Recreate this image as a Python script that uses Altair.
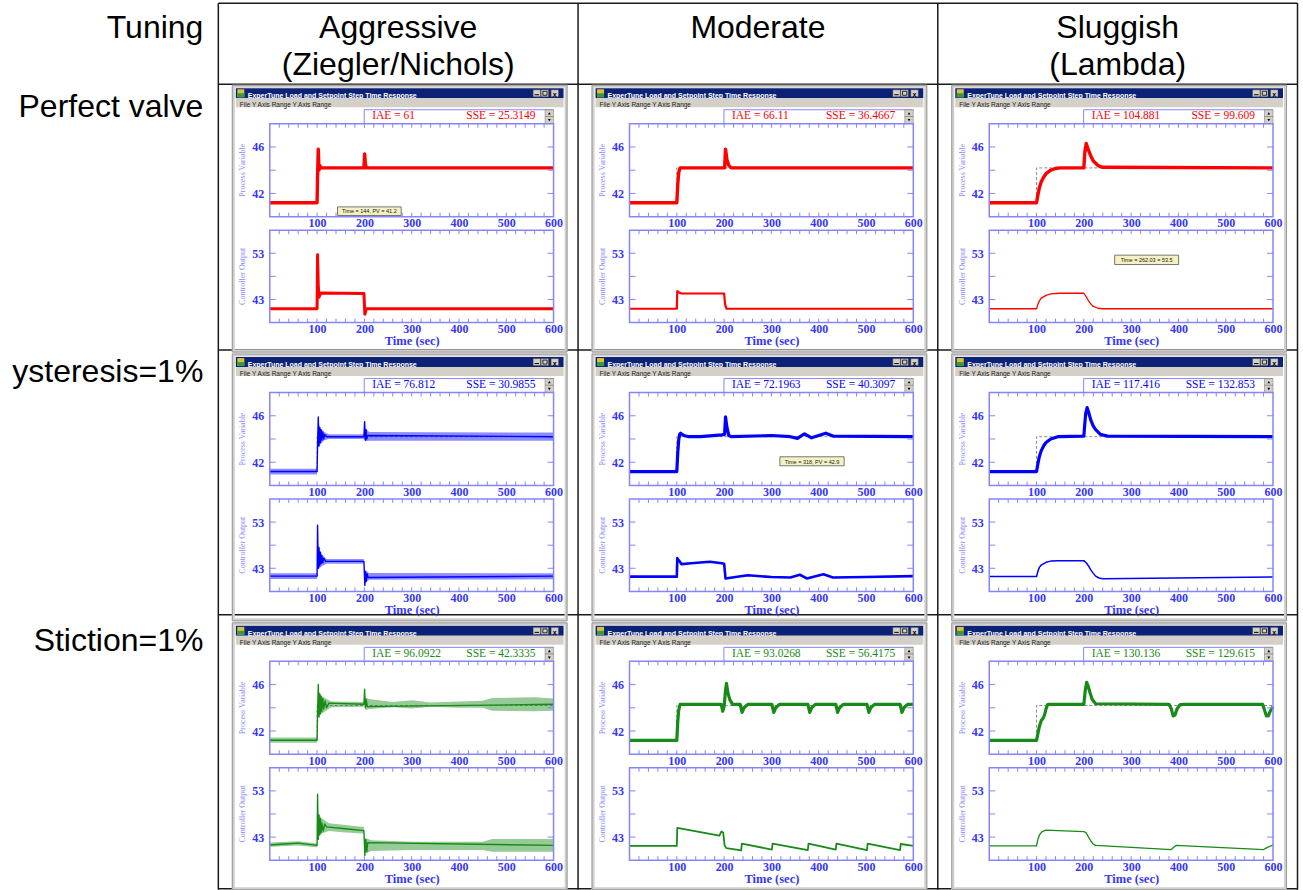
import altair as alt
import pandas as pd

# ---------------- texts ----------------
CORNER = "Tuning"
HEADER_TOP = ["Aggressive", "Moderate", "Sluggish"]
HEADER_BOTTOM = ["(Ziegler/Nichols)", "", "(Lambda)"]
ROW_LABELS = ["Perfect valve", "ysteresis=1%", "Stiction=1%"]
WINDOW_TITLE = "ExperTune Load and Setpoint Step Time Response"
MENU_TEXT = "File    Y Axis Range    Y Axis Range"
PV_TITLE = "Process Variable"
CO_TITLE = "Controller Output"
IAE = [["61", "66.11", "104.881"],
       ["76.812", "72.1963", "117.416"],
       ["96.0922", "93.0268", "130.136"]]
SSE = [["25.3149", "36.4667", "99.609"],
       ["30.9855", "40.3097", "132.853"],
       ["42.3335", "56.4175", "129.615"]]
TOOLTIP_TEXT = {(0, 0, "pv"): "Time = 144, PV = 41.2",
                (0, 2, "co"): "Time = 262.03 = 53.5",
                (1, 1, "pv"): "Time = 318, PV = 42.9"}

# ---------------- axis values ----------------
TIME_LABELS = [100, 200, 300, 400, 500, 600]
TIME_MINOR = [20, 40, 60, 80, 100, 120, 140, 160, 180, 200, 220, 240, 260, 280, 300,
              320, 340, 360, 380, 400, 420, 440, 460, 480, 500, 520, 540, 560, 580]
PV_LABELS = [42, 46]
PV_TICKS = [42, 44, 46]
CO_LABELS = [43, 53]
CO_TICKS = [43, 48, 53]
PV_DOMAIN = [40, 48]
CO_DOMAIN = [38, 58]
SETPOINT_T = [0, 100, 100, 600]
SETPOINT_V = [41.2, 41.2, 44.2, 44.2]

# ---------------- traces ----------------
# Perfect valve
pa_pv_t = [0, 100, 101, 102.5, 104, 106, 108, 199, 200.5, 202, 204, 600]
pa_pv_v = [41.2, 41.2, 43.5, 45.8, 44.0, 44.4, 44.2, 44.2, 45.4, 44.6, 44.2, 44.2]
pa_co_t = [0, 100, 101, 102.5, 104, 108, 199, 201, 204, 600]
pa_co_v = [41.0, 41.0, 52.7, 46.0, 43.5, 44.4, 44.3, 39.8, 41.0, 41.0]

pm_pv_t = [0, 100, 102, 104, 107, 110, 201, 203, 206, 210, 215, 600]
pm_pv_v = [41.2, 41.2, 42.8, 43.8, 44.2, 44.2, 44.2, 45.8, 44.9, 44.4, 44.2, 44.2]
pm_co_t = [0, 100, 101, 105, 110, 200, 202, 205, 600]
pm_co_v = [41.0, 41.0, 44.8, 44.5, 44.3, 44.3, 42.0, 41.0, 41.0]

ps_pv_t = [0, 100, 103, 106, 110, 115, 120, 130, 140, 150, 200, 202, 205, 210, 215, 220, 230, 240, 600]
ps_pv_v = [41.2, 41.2, 41.9, 42.5, 43.0, 43.4, 43.7, 44.0, 44.15, 44.2, 44.2, 45.5, 46.3, 45.7, 45.2, 44.8, 44.4, 44.25, 44.2]
ps_co_t = [0, 100, 103, 106, 110, 120, 130, 150, 200, 205, 210, 215, 220, 230, 240, 600]
ps_co_v = [41.0, 41.0, 42.0, 42.7, 43.3, 43.9, 44.2, 44.35, 44.35, 43.6, 42.7, 42.0, 41.5, 41.1, 41.0, 41.0]

# Hysteresis = 1%
ha_pv_t = [0, 100, 101, 102.5, 104, 105.5, 107, 108.5, 110, 112, 114, 116, 120, 199, 200.5, 202, 203.5, 205, 207, 600]
ha_pv_v = [41.2, 41.2, 43.5, 45.9, 43.4, 45.0, 43.7, 44.8, 43.9, 44.6, 44.0, 44.4, 44.2, 44.2, 45.5, 43.9, 44.8, 44.0, 44.3, 44.2]
ha_co_t = [0, 100, 101, 102.5, 104, 105.5, 107, 108.5, 110, 112, 114, 118, 199, 201, 202.5, 204, 206, 208, 600]
ha_co_v = [41.3, 41.3, 52.3, 43.0, 47.5, 43.5, 46.5, 44.0, 45.8, 44.2, 45.2, 44.5, 44.5, 39.3, 42.3, 40.2, 41.8, 41.0, 41.3]
ha_pv_env_seg = [0, 0, 1, 1, 1, 1, 1, 1, 1, 1]
ha_pv_env_t = [0, 100, 103, 108, 115, 125, 198, 203, 210, 600]
ha_pv_env_lo = [40.95, 40.95, 43.3, 43.6, 43.9, 44.0, 44.0, 43.8, 43.85, 43.85]
ha_pv_env_hi = [41.45, 41.45, 45.3, 44.9, 44.6, 44.4, 44.4, 44.9, 44.6, 44.55]
ha_co_env_seg = [0, 0, 1, 1, 1, 1, 2, 2, 2]
ha_co_env_t = [0, 100, 103, 110, 120, 199, 202, 210, 600]
ha_co_env_lo = [40.7, 40.7, 42.8, 43.5, 44.0, 44.0, 39.8, 40.5, 40.6]
ha_co_env_hi = [41.9, 41.9, 47.5, 46.0, 45.0, 45.0, 42.5, 42.0, 41.9]

hm_pv_t = [0, 100, 102, 104, 106, 108, 115, 125, 150, 195, 201, 203, 206, 210, 215, 300, 340, 355, 370, 385, 400, 415, 430, 600]
hm_pv_v = [41.2, 41.2, 42.8, 43.9, 44.4, 44.5, 44.3, 44.2, 44.2, 44.35, 44.4, 45.9, 45.0, 44.3, 44.2, 44.3, 44.2, 44.05, 44.45, 44.1, 44.3, 44.5, 44.25, 44.2]
hm_co_t = [0, 100, 101, 105, 110, 130, 170, 195, 200, 203, 210, 250, 300, 340, 360, 375, 410, 430, 500, 600]
hm_co_v = [41.2, 41.2, 45.2, 44.6, 43.9, 44.1, 44.4, 44.1, 44.0, 40.8, 40.9, 41.5, 41.1, 41.0, 41.6, 40.8, 41.7, 41.0, 41.1, 41.3]

hs_pv_t = [0, 100, 103, 106, 110, 115, 120, 130, 145, 200, 202, 204, 207, 210, 215, 220, 225, 235, 250, 600]
hs_pv_v = [41.2, 41.2, 41.9, 42.5, 43.0, 43.4, 43.7, 44.0, 44.2, 44.25, 45.3, 46.2, 46.7, 46.3, 45.6, 45.1, 44.8, 44.4, 44.25, 44.2]
hs_co_t = [0, 100, 103, 106, 110, 120, 130, 145, 200, 205, 210, 215, 220, 225, 232, 240, 600]
hs_co_v = [41.2, 41.2, 42.4, 43.2, 43.7, 44.3, 44.55, 44.65, 44.65, 44.2, 43.5, 42.6, 41.9, 41.3, 40.9, 40.75, 41.1]

# Stiction = 1%
sa_pv_t = [0, 100, 101, 102.5, 104, 105.5, 107, 108.5, 110, 112, 114, 117, 120, 125, 199, 200.5, 202, 204, 206, 600]
sa_pv_v = [41.2, 41.2, 43.5, 46.0, 43.2, 45.2, 43.5, 45.0, 43.7, 44.8, 43.9, 44.6, 44.0, 44.4, 44.3, 45.6, 44.0, 44.7, 44.1, 44.3]
sa_co_t = [0, 30, 60, 100, 101, 102.5, 104, 105.5, 107, 108.5, 110, 113, 116, 120, 160, 199, 201, 203, 205, 207, 600]
sa_co_v = [41.3, 41.5, 41.7, 41.2, 52.3, 42.5, 47.8, 43.5, 47.0, 44.0, 46.0, 44.3, 45.8, 45.2, 44.8, 44.4, 39.0, 42.5, 39.8, 41.8, 41.2]
sa_pv_env_seg = [0, 0, 1, 1, 1, 1, 2, 2, 2, 2, 2, 2, 2, 2, 2, 2]
sa_pv_env_t = [0, 100, 103, 110, 130, 199, 202, 210, 260, 300, 340, 400, 450, 470, 560, 600]
sa_pv_env_lo = [41.0, 41.0, 43.2, 43.5, 44.05, 44.1, 43.8, 43.9, 44.05, 43.95, 44.1, 44.0, 44.0, 43.75, 43.7, 43.75]
sa_pv_env_hi = [41.45, 41.45, 45.5, 45.0, 44.55, 44.5, 44.9, 44.75, 44.5, 44.65, 44.45, 44.55, 44.6, 44.85, 44.9, 44.8]
sa_co_env_seg = [0, 0, 0, 1, 1, 1, 1, 1, 2, 2, 2, 2, 2, 2]
sa_co_env_t = [0, 60, 100, 103, 110, 125, 160, 199, 202, 215, 300, 450, 470, 600]
sa_co_env_lo = [40.9, 41.2, 40.8, 43.0, 43.8, 44.3, 44.0, 43.8, 39.5, 40.0, 40.2, 40.2, 39.8, 39.8]
sa_co_env_hi = [41.8, 42.1, 41.6, 48.0, 47.0, 46.0, 45.6, 45.2, 42.8, 42.3, 42.0, 42.0, 42.6, 42.6]

sm_pv_t = [0, 100, 102, 104, 107, 110, 194, 197, 200, 203, 205, 208, 212, 218,
           234, 238, 242, 250, 301, 305, 309, 317, 377, 381, 385, 393,
           436, 440, 444, 452, 502, 506, 510, 518, 572, 576, 580, 588, 600]
sm_pv_v = [41.2, 41.2, 42.8, 43.8, 44.3, 44.3, 44.3, 43.7, 44.1, 45.5, 46.1, 45.3, 44.7, 44.3,
           44.3, 43.6, 44.0, 44.3, 44.3, 43.6, 44.0, 44.3, 44.3, 43.6, 44.0, 44.3,
           44.3, 43.6, 44.0, 44.3, 44.3, 43.6, 44.0, 44.3, 44.3, 43.6, 44.0, 44.3, 44.3]
sm_co_t = [0, 100, 101, 190, 194, 198, 201, 205, 236, 237.5, 301, 302.5, 377, 378.5,
           436, 437.5, 502, 503.5, 572, 573.5, 600]
sm_co_v = [41.1, 41.1, 45.0, 43.3, 44.2, 44.0, 41.2, 40.6, 40.1, 41.6, 40.3, 41.6, 40.2, 41.6,
           40.3, 41.6, 40.2, 41.6, 40.2, 41.5, 41.1]

ss_pv_t = [0, 100, 103, 106, 110, 114, 117, 120, 123, 127, 200, 203, 206, 209, 213, 218, 225,
           380, 385, 389, 393, 397, 403, 410, 578, 582, 586, 590, 594, 600]
ss_pv_v = [41.2, 41.2, 41.8, 42.4, 42.9, 43.1, 43.4, 43.9, 44.25, 44.3, 44.3, 45.5, 46.2, 45.9, 45.3, 44.7, 44.35,
           44.3, 43.9, 43.3, 43.4, 43.9, 44.25, 44.3, 44.3, 43.8, 43.3, 43.3, 43.7, 44.1]
ss_co_t = [0, 100, 103, 107, 112, 120, 200, 205, 210, 215, 220, 225, 385, 390, 395, 580, 585, 600]
ss_co_v = [41.1, 41.1, 42.6, 43.6, 44.2, 44.5, 44.2, 43.9, 43.0, 42.1, 41.5, 41.2, 40.3, 40.8, 41.2, 40.3, 40.6, 41.3]

PV_TRACES = [[(pa_pv_t, pa_pv_v), (pm_pv_t, pm_pv_v), (ps_pv_t, ps_pv_v)],
             [(ha_pv_t, ha_pv_v), (hm_pv_t, hm_pv_v), (hs_pv_t, hs_pv_v)],
             [(sa_pv_t, sa_pv_v), (sm_pv_t, sm_pv_v), (ss_pv_t, ss_pv_v)]]
CO_TRACES = [[(pa_co_t, pa_co_v), (pm_co_t, pm_co_v), (ps_co_t, ps_co_v)],
             [(ha_co_t, ha_co_v), (hm_co_t, hm_co_v), (hs_co_t, hs_co_v)],
             [(sa_co_t, sa_co_v), (sm_co_t, sm_co_v), (ss_co_t, ss_co_v)]]
ENVELOPES = {
    (1, 0, "pv"): (ha_pv_env_seg, ha_pv_env_t, ha_pv_env_lo, ha_pv_env_hi),
    (1, 0, "co"): (ha_co_env_seg, ha_co_env_t, ha_co_env_lo, ha_co_env_hi),
    (2, 0, "pv"): (sa_pv_env_seg, sa_pv_env_t, sa_pv_env_lo, sa_pv_env_hi),
    (2, 0, "co"): (sa_co_env_seg, sa_co_env_t, sa_co_env_lo, sa_co_env_hi),
}

# ---------------- styles / layout ----------------
ROW_COLORS = ["#ff0000", "#0000ff", "#178a17"]
PV_SW = [[3.4, 3.4, 3.4], [1.4, 3.2, 3.2], [1.4, 3.2, 3.2]]
CO_SW = [[3.0, 2.2, 1.3], [1.4, 2.6, 1.5], [1.4, 1.8, 1.3]]
SERIF = "Liberation Serif"
SANS = "Liberation Sans"
AXIS_BLUE = "#3535ff"
TITLE_BLUE = "#8a8aff"
FRAME = "#8585ff"
W, H_PV, H_CO = 284, 93, 92.5
OFF = 56.5                      # empty band above each PV plot (window chrome lives there)
GAP, COL_GAP = 13, 76
X0, Y0 = 269.5, 122.5 - OFF     # page position of the first view's origin
TOOLTIP_BOX = {(0, 0, "pv"): (67.8, 83.2, 131.5, 91.8),
               (0, 2, "co"): (125.5, 25.0, 189.5, 34.4),
               (1, 1, "pv"): (150.5, 64.3, 214.8, 73.3)}

ONE = pd.DataFrame({"k": [0]})


def vrect(x1, y1, x2, y2, **kw):
    return alt.Chart(ONE).mark_rect(**kw).encode(
        x=alt.value(x1), x2=alt.value(x2), y=alt.value(y1), y2=alt.value(y2))


def vrule(x1, y1, x2, y2, **kw):
    return alt.Chart(ONE).mark_rule(**kw).encode(
        x=alt.value(x1), x2=alt.value(x2), y=alt.value(y1), y2=alt.value(y2))


def vtext(x, y, text, **kw):
    return alt.Chart(ONE).mark_text(text=text, **kw).encode(x=alt.value(x), y=alt.value(y))


def vpoint(x, y, **kw):
    return alt.Chart(ONE).mark_point(**kw).encode(x=alt.value(x), y=alt.value(y))


def xenc(title):
    return alt.X("t:Q", scale=alt.Scale(domain=[0, 600], nice=False, zero=False),
                 axis=alt.Axis(values=TIME_LABELS, title=title, ticks=False, tickSize=0,
                               domain=False, grid=False, labelFlush=False, labelOverlap=False,
                               labelFont=SERIF, labelFontSize=12, labelFontWeight="bold",
                               labelColor=AXIS_BLUE, labelPadding=1,
                               titleFont=SERIF, titleFontSize=12.5, titleFontWeight="bold",
                               titleColor=AXIS_BLUE, titlePadding=0))


def yenc(field, domain, rng, labels):
    return alt.Y(f"{field}:Q", scale=alt.Scale(domain=domain, range=rng, nice=False, zero=False),
                 axis=alt.Axis(values=labels, title=None, ticks=False, tickSize=0,
                               domain=False, grid=False, labelOverlap=False,
                               labelFont=SERIF, labelFontSize=12, labelFontWeight="bold",
                               labelColor=AXIS_BLUE, labelPadding=6))


def table_layers():
    L = []
    L.append(vrect(-X0, -Y0, 1303 - X0, 890 - Y0, color="white", opacity=0))
    black = "#1a1a1a"
    for xv in [218, 578, 938, 1298]:
        L.append(vrule(xv - X0, 2 - Y0, xv - X0, 889 - Y0, color=black, strokeWidth=1.5))
    for yv in [2, 83, 349, 614, 888]:
        L.append(vrule(218 - X0, yv - Y0, 1298 - X0, yv - Y0, color=black, strokeWidth=1.5))
    hkw = dict(font=SANS, fontSize=32, color="black", baseline="alphabetic")
    L.append(vtext(203 - X0, 37 - Y0, CORNER, align="right", **hkw))
    for i in range(3):
        cx = 398 + 360 * i - X0
        L.append(vtext(cx, 37 - Y0, HEADER_TOP[i], align="center", **hkw))
        if HEADER_BOTTOM[i]:
            L.append(vtext(cx, 74 - Y0, HEADER_BOTTOM[i], align="center", **hkw))
    for i, yb in enumerate([116, 381, 650]):
        L.append(vtext(203 - X0, yb - Y0, ROW_LABELS[i], align="right", **hkw))
    return L


def chrome_layers(r, c):
    col = ROW_COLORS[r]
    o = OFF
    L = []
    # window frame
    L.append(vrect(-36.5, o - 37.5, 296.5, o + 227.5, fillOpacity=0, stroke="#d2d0cc", strokeWidth=3))
    L.append(vrect(-37.5, o - 38.5, 297.5, o + 228.5, fillOpacity=0, stroke="#9a9a9a", strokeWidth=1))
    # title bar
    L.append(vrect(-34, o - 35.5, 294, o - 25.5, color="#0c2277"))
    L.append(vrect(-32.5, o - 34.5, -25.5, o - 26.5, color="#d9c23a"))
    L.append(vrect(-32.5, o - 30.5, -25.5, o - 26.5, color="#3a9a3a"))
    L.append(vtext(-22, o - 27.8, WINDOW_TITLE, align="left", font=SANS, fontSize=7,
                   fontWeight="bold", color="white"))
    for bx in [263.5, 271.5, 281.5]:
        L.append(vrect(bx, o - 34, bx + 7.5, o - 27, color="#d4d0c8", stroke="#404040", strokeWidth=0.5))
    L.append(vtext(285.2, o - 28.3, "x", align="center", font=SANS, fontSize=7, fontWeight="bold", color="black"))
    L.append(vrule(265, o - 29, 269.5, o - 29, color="black", strokeWidth=1))
    L.append(vrect(273.3, o - 32.5, 277.5, o - 28.5, fillOpacity=0, stroke="black", strokeWidth=0.8))
    # menu bar
    L.append(vrect(-34, o - 25.5, 294, o - 16.5, color="#d4d0c8"))
    L.append(vtext(-30, o - 18.6, MENU_TEXT, align="left", font=SANS, fontSize=6.5, color="#202020"))
    # IAE / SSE box
    L.append(vrule(94.5, o - 14, 94.5, o, color=FRAME, strokeWidth=1))
    L.append(vrule(94.5, o - 14, 284, o - 14, color=FRAME, strokeWidth=1))
    L.append(vrect(275.5, o - 14, 284, o - 7.2, color="#d4d0c8", stroke="#707070", strokeWidth=0.5))
    L.append(vrect(275.5, o - 7.2, 284, o, color="#d4d0c8", stroke="#707070", strokeWidth=0.5))
    L.append(vpoint(279.75, o - 10.4, shape="triangle-up", filled=True, size=8, color="black", opacity=1))
    L.append(vpoint(279.75, o - 3.6, shape="triangle-down", filled=True, size=8, color="black", opacity=1))
    skw = dict(font=SERIF, fontSize=11.5, color=col, baseline="alphabetic")
    L.append(vtext(102.5, o - 4.3, "IAE = " + IAE[r][c], align="left", **skw))
    L.append(vtext(266, o - 4.3, "SSE = " + SSE[r][c], align="right", **skw))
    return L


def tooltip_layers(key, o):
    if key not in TOOLTIP_BOX:
        return []
    x1, y1, x2, y2 = TOOLTIP_BOX[key]
    return [vrect(x1, o + y1, x2, o + y2, color="#f4f2c4", stroke="#555555", strokeWidth=0.8),
            vtext((x1 + x2) / 2, o + (y1 + y2) / 2 + 0.3, TOOLTIP_TEXT[key], align="center",
                  baseline="middle", font=SANS, fontSize=5.5, color="#202020")]


def plot_view(r, c, kind):
    col = ROW_COLORS[r]
    if kind == "pv":
        o, h, domain, labels, ticks, ytitle, xtitle = OFF, H_PV, PV_DOMAIN, PV_LABELS, PV_TICKS, PV_TITLE, None
        t, v = PV_TRACES[r][c]
        sw = PV_SW[r][c]
    else:
        o, h, domain, labels, ticks, ytitle, xtitle = 0, H_CO, CO_DOMAIN, CO_LABELS, CO_TICKS, CO_TITLE, "Time (sec)"
        t, v = CO_TRACES[r][c]
        sw = CO_SW[r][c]
    rng = [o + h, o]
    X = xenc(xtitle)
    Y = yenc("v", domain, rng, labels)
    layers = []
    if kind == "pv" and r == 0 and c == 0:
        layers += table_layers()
    if kind == "pv":
        layers += chrome_layers(r, c)
        sp = pd.DataFrame({"t": SETPOINT_T, "v": SETPOINT_V})
        layers.append(alt.Chart(sp).mark_line(color="#8c8c8c", strokeDash=[3, 2], strokeWidth=1).encode(x=X, y=Y))
    key = (r, c, kind)
    if key in ENVELOPES:
        seg, et, lo, hi = ENVELOPES[key]
        edf = pd.DataFrame({"seg": seg, "t": et, "lo": lo, "hi": hi})
        layers.append(alt.Chart(edf).mark_area(color=col, opacity=0.45).encode(
            x=X, y=yenc("lo", domain, rng, labels), y2=alt.Y2("hi:Q"), detail="seg:N"))
    df = pd.DataFrame({"t": t, "v": v})
    layers.append(alt.Chart(df).mark_line(color=col, strokeWidth=sw, strokeJoin="round").encode(x=X, y=Y))
    # plot frame and inward ticks
    layers.append(vrect(0, o, W, o + h, fillOpacity=0, stroke=FRAME, strokeWidth=1.5))
    tdf = pd.DataFrame({"t": TIME_MINOR})
    layers.append(alt.Chart(tdf).mark_rule(color=FRAME, strokeWidth=1).encode(
        x=X, y=alt.value(o), y2=alt.value(o + 4)))
    layers.append(alt.Chart(tdf).mark_rule(color=FRAME, strokeWidth=1).encode(
        x=X, y=alt.value(o + h - 4), y2=alt.value(o + h)))
    ydf = pd.DataFrame({"v": ticks})
    layers.append(alt.Chart(ydf).mark_rule(color=FRAME, strokeWidth=1).encode(
        y=Y, x=alt.value(0), x2=alt.value(6)))
    layers.append(alt.Chart(ydf).mark_rule(color=FRAME, strokeWidth=1).encode(
        y=Y, x=alt.value(W - 6), x2=alt.value(W)))
    # y-axis title
    layers.append(vtext(-26.5, o + h / 2, ytitle, angle=270, align="center", baseline="middle",
                        font=SERIF, fontSize=8, color=TITLE_BLUE))
    layers += tooltip_layers(key, o)
    return alt.layer(*layers).properties(width=W, height=o + h)


views = []
for r in range(3):
    for kind in ["pv", "co"]:
        for c in range(3):
            views.append(plot_view(r, c, kind))

chart = alt.concat(*views, columns=3, spacing={"row": GAP, "column": COL_GAP},
                   bounds="flush").properties(
    padding=0, background="white"
).configure_view(stroke="transparent")

chart.save("out.html", embed_options={"renderer": "svg", "actions": False})
